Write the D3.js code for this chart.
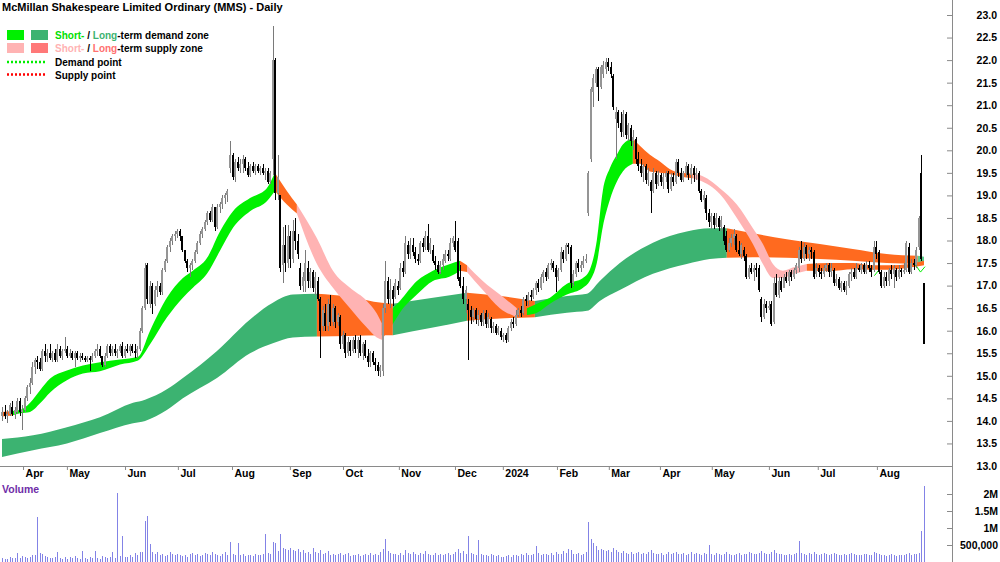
<!DOCTYPE html>
<html lang="en">
<head>
<meta charset="UTF-8">
<title>MMS Daily</title>
<script src="https://cdn.jsdelivr.net/npm/d3@7"></script>
<style>
  body { margin: 0; padding: 0; background: #fff; }
  svg { display: block; font-family: Arial, "Liberation Sans", sans-serif; font-weight: bold; }
</style>
</head>
<body>
<div id="chart"></div>
<script>
// daily candles, late Mar 2023 .. late Aug 2024
const opens = [
14.1,14.2,14.1,14.15,14.3,14.15,14.2,14.45,14.2,14.25,
14.5,14.75,14.85,15.2,15.35,15.3,15.15,15.55,15.45,15.5,
15.4,15.5,15.35,15.6,15.45,15.55,15.6,15.45,15.5,15.4,
15.5,15.4,15.45,15.4,15.35,15.4,15.35,15.45,15.55,15.6,
15.45,15.25,15.45,15.65,15.5,15.6,15.5,15.55,15.65,15.45,
15.6,15.55,15.65,15.55,15.5,15.6,16.0,16.5,17.45,16.6,
17.0,16.6,16.9,17.0,16.85,17.35,17.55,17.85,18.0,18.1,
18.15,18.2,18.1,17.8,17.55,17.4,17.45,17.55,17.75,17.95,
18.15,18.25,18.4,18.6,18.45,18.75,18.3,18.75,18.8,18.95,
19.0,19.6,19.9,19.4,19.75,19.6,19.7,19.8,19.6,19.45,
19.65,19.55,19.65,19.55,19.6,19.5,19.55,19.3,19.8,22.0,
19.05,19.0,17.45,17.9,17.5,18.1,17.6,18.2,18.0,17.4,
17.0,17.1,17.4,17.1,17.3,16.95,17.1,16.7,16.1,16.4,
16.1,16.6,16.2,16.5,16.2,16.3,15.7,15.9,15.5,15.75,
15.55,15.8,15.6,15.8,15.5,15.7,15.45,15.3,15.5,15.3,
15.25,15.1,15.1,16.5,17.1,16.7,16.9,16.75,17.0,16.95,
17.4,17.3,17.9,17.7,17.9,17.75,17.6,17.55,17.95,17.85,
18.1,17.8,17.8,17.55,17.45,17.3,17.45,17.55,17.7,17.6,
17.95,18.0,18.0,17.2,17.0,16.7,16.6,16.45,16.3,16.45,
16.25,16.35,16.2,16.4,16.15,16.25,16.05,16.1,15.95,16.0,
15.85,15.9,15.8,16.05,16.2,16.15,16.35,16.45,16.4,16.7,
16.65,16.8,16.75,16.9,17.05,16.95,17.2,17.3,17.2,17.45,
17.5,17.4,17.2,17.35,17.75,17.6,17.9,17.85,17.05,17.25,
17.5,17.4,17.45,17.55,18.6,19.8,21.3,21.5,21.8,21.4,
21.7,21.8,21.95,21.85,21.65,20.7,20.85,20.6,20.4,20.8,
20.35,20.5,20.2,20.25,19.8,19.65,19.5,19.65,19.35,19.3,
19.1,19.5,19.25,19.45,19.3,19.4,19.5,19.15,19.4,19.3,
19.75,19.5,19.35,19.5,19.65,19.45,19.6,19.45,19.5,19.1,
18.9,18.95,18.6,18.4,18.55,18.35,18.5,18.3,18.3,18.1,
17.8,17.95,18.05,18.1,17.8,17.7,17.8,17.65,17.2,17.4,
17.3,17.4,17.4,16.7,16.3,16.6,16.5,16.6,16.2,17.05,
16.8,17.1,16.95,17.2,17.1,17.3,17.2,17.35,17.4,17.8,
17.6,17.85,17.7,17.8,17.75,17.25,17.4,17.3,17.25,17.4,
17.45,17.3,17.35,17.05,17.15,16.95,17.05,16.9,17.0,17.25,
17.3,17.2,17.4,17.35,17.45,17.3,17.45,17.4,17.35,17.85,
17.75,17.3,17.0,17.2,17.1,17.35,17.25,17.35,17.2,17.35,
17.3,17.35,17.85,17.3,17.5,17.45,17.85,19.5,17.05
];
const highs = [
14.3,14.35,14.25,14.4,14.45,14.3,14.5,14.5,14.35,14.55,
14.8,14.95,15.3,15.4,15.45,15.4,15.6,15.7,15.6,15.7,
15.55,15.6,15.7,15.65,15.6,15.85,15.65,15.6,15.55,15.55,
15.55,15.5,15.5,15.45,15.45,15.45,15.5,15.6,15.7,15.65,
15.45,15.5,15.7,15.7,15.65,15.7,15.6,15.7,15.75,15.65,
15.7,15.7,15.7,15.7,15.65,16.05,16.55,17.5,17.5,17.1,
17.05,17.0,17.1,17.05,17.4,17.6,17.9,18.05,18.15,18.2,
18.25,18.25,18.1,17.8,17.6,17.5,17.6,17.8,18.0,18.2,
18.3,18.45,18.65,18.65,18.8,18.75,18.8,18.85,19.0,19.05,
19.15,20.2,19.95,19.8,19.85,19.8,19.9,19.85,19.75,19.7,
19.75,19.7,19.7,19.65,19.7,19.6,19.6,19.55,22.75,22.05,
19.9,19.0,18.3,18.35,18.35,18.2,18.45,18.5,18.15,17.5,
17.3,17.8,17.55,17.4,17.35,17.3,17.2,16.75,16.55,16.6,
16.7,16.8,16.6,16.55,16.4,16.35,16.0,15.95,15.85,15.8,
15.85,15.9,15.85,15.9,15.75,15.8,15.6,15.55,15.55,15.4,
15.3,15.25,16.6,17.55,17.2,17.15,17.0,17.15,17.1,17.5,
17.55,18.1,18.0,18.05,18.05,17.85,17.7,18.0,18.05,18.2,
18.36,18.05,17.9,17.65,17.55,17.55,17.7,17.8,17.8,18.05,
18.1,18.43,18.05,17.45,17.2,17.0,16.7,16.55,16.5,16.5,
16.45,16.4,16.45,16.45,16.4,16.3,16.2,16.15,16.1,16.05,
15.95,15.95,16.1,16.25,16.3,16.45,16.5,16.55,16.75,16.8,
16.85,16.9,16.95,17.1,17.15,17.25,17.35,17.4,17.5,17.6,
17.55,17.45,17.4,17.85,17.8,17.95,17.95,17.9,17.35,17.55,
17.6,17.55,17.65,17.7,19.55,21.4,21.7,21.85,21.85,21.9,
21.97,22.05,22.05,21.95,21.7,20.95,20.9,20.85,20.9,20.85,
20.6,20.55,20.45,20.3,19.97,19.8,19.7,19.7,19.6,19.35,
19.6,19.55,19.55,19.5,19.5,19.55,19.55,19.5,19.5,19.8,
19.8,19.6,19.55,19.75,19.7,19.7,19.65,19.6,19.55,19.15,
19.1,19.0,18.7,18.6,18.6,18.6,18.55,18.55,18.35,18.2,
18.05,18.15,18.25,18.15,18.0,17.95,17.85,17.7,17.45,17.5,
17.45,17.5,17.45,16.75,16.7,16.65,16.65,16.65,17.2,17.25,
17.2,17.2,17.25,17.3,17.35,17.35,17.4,17.5,17.85,18.0,
17.95,17.9,17.85,17.85,17.8,17.5,17.45,17.4,17.45,17.5,
17.5,17.5,17.4,17.25,17.2,17.1,17.1,17.1,17.3,17.4,
17.4,17.5,17.45,17.5,17.5,17.55,17.55,17.45,18.0,18.0,
17.8,17.35,17.3,17.3,17.4,17.45,17.45,17.4,17.45,17.4,
17.5,18.0,17.95,17.6,17.6,17.85,18.55,19.9,17.05
];
const lows = [
14.0,14.05,13.95,14.1,14.1,14.05,14.15,14.1,13.8,14.2,
14.45,14.6,14.8,15.05,15.15,15.1,15.1,15.3,15.3,15.35,
15.3,15.3,15.3,15.4,15.35,15.5,15.4,15.4,15.35,15.2,
15.35,15.3,15.35,15.3,15.3,15.1,15.3,15.4,15.45,15.4,
15.2,15.2,15.4,15.45,15.45,15.45,15.4,15.5,15.4,15.4,
15.5,15.45,15.5,15.4,15.4,15.55,15.95,16.45,16.6,16.5,
16.37,16.55,16.75,16.8,16.8,17.3,17.5,17.75,17.9,18.0,
18.05,18.0,17.75,17.5,17.3,17.2,17.35,17.5,17.7,17.9,
18.05,18.2,18.35,18.4,18.4,18.2,18.25,18.6,18.7,18.8,
18.85,19.5,19.35,19.3,19.55,19.5,19.5,19.55,19.4,19.4,
19.5,19.45,19.5,19.45,19.45,19.35,19.25,19.25,19.45,18.9,
18.9,17.3,17.05,17.3,17.4,17.4,17.5,17.8,17.6,16.9,
16.85,16.85,16.95,16.95,16.85,16.8,16.65,15.4,16.0,16.0,
16.0,16.1,16.1,16.05,16.1,15.6,15.6,15.4,15.45,15.45,
15.5,15.5,15.4,15.45,15.35,15.4,15.2,15.2,15.25,15.1,
15.0,14.98,15.0,16.4,16.6,16.5,16.55,16.7,16.8,16.9,
17.2,17.25,17.6,17.6,17.65,17.5,17.45,17.5,17.75,17.8,
17.75,17.7,17.5,17.35,17.25,17.25,17.35,17.5,17.55,17.55,
17.85,17.75,17.1,16.95,16.6,16.4,15.35,16.15,16.2,16.15,
16.1,16.1,16.1,16.05,16.05,15.95,15.95,15.9,15.9,15.8,
15.75,15.72,15.75,16.0,16.05,16.1,16.3,16.3,16.35,16.55,
16.55,16.65,16.7,16.8,16.85,16.9,17.05,17.1,17.15,17.35,
17.3,16.85,17.1,17.3,17.5,17.55,17.7,16.95,17.0,17.2,
17.3,17.3,17.4,17.5,18.55,19.75,20.95,21.4,21.1,21.35,
21.6,21.7,21.75,21.6,20.9,19.8,20.5,20.3,20.3,20.25,
20.2,20.1,20.0,19.7,19.55,19.4,19.3,19.25,19.2,18.6,
19.05,19.15,19.2,19.2,19.15,19.3,19.05,19.1,19.2,19.25,
19.4,19.3,19.3,19.4,19.35,19.25,19.3,19.35,19.05,18.85,
18.7,18.45,18.3,18.25,18.25,18.3,18.2,18.2,17.9,17.75,
17.75,17.85,17.9,17.75,17.65,17.6,17.55,17.15,17.15,17.25,
17.1,17.2,16.85,16.2,16.25,16.4,16.45,16.1,16.15,16.75,
16.73,16.85,16.95,17.05,17.0,17.1,17.15,17.25,17.3,17.5,
17.55,17.6,17.55,17.6,17.15,17.2,17.2,17.15,17.2,17.3,
17.2,17.2,17.0,17.0,16.9,16.85,16.85,16.8,16.95,17.1,
17.15,17.15,17.3,17.25,17.25,17.25,17.3,17.2,17.3,17.6,
17.25,16.95,16.95,17.0,17.0,17.15,16.95,17.1,17.15,17.2,
17.25,17.3,17.25,17.25,17.35,17.4,17.8,17.55,15.7
];
const closes = [
14.2,14.1,14.15,14.35,14.15,14.25,14.45,14.2,14.25,14.5,
14.75,14.85,15.2,15.35,15.3,15.15,15.55,15.45,15.5,15.4,
15.5,15.35,15.6,15.45,15.55,15.6,15.45,15.5,15.4,15.5,
15.4,15.45,15.4,15.35,15.4,15.35,15.45,15.55,15.6,15.45,
15.25,15.45,15.65,15.5,15.6,15.5,15.55,15.65,15.45,15.6,
15.55,15.65,15.55,15.5,15.6,16.0,16.5,17.4,16.7,17.0,
16.6,16.9,17.0,16.85,17.35,17.55,17.85,18.0,18.1,18.15,
18.2,18.1,17.8,17.55,17.4,17.45,17.55,17.75,17.95,18.15,
18.25,18.4,18.6,18.45,18.75,18.3,18.75,18.8,18.95,19.0,
19.1,19.9,19.4,19.75,19.6,19.7,19.8,19.6,19.45,19.65,
19.55,19.65,19.55,19.6,19.5,19.55,19.3,19.5,22.0,19.05,
19.4,17.4,17.9,17.5,18.1,17.6,18.2,18.0,17.7,17.0,
17.2,17.5,17.1,17.3,16.95,17.2,16.7,16.0,16.45,16.1,
16.6,16.2,16.5,16.2,16.35,15.7,15.9,15.5,15.75,15.55,
15.8,15.6,15.8,15.5,15.7,15.45,15.3,15.5,15.3,15.25,
15.1,15.2,16.5,17.1,16.7,16.9,16.7,17.05,16.9,17.4,
17.3,17.95,17.7,17.9,17.75,17.6,17.55,17.95,17.85,18.1,
17.8,17.95,17.55,17.45,17.3,17.45,17.6,17.7,17.65,17.95,
18.05,17.8,17.15,17.0,16.7,16.9,16.45,16.3,16.45,16.25,
16.35,16.2,16.4,16.15,16.3,16.05,16.1,15.95,16.05,15.85,
15.9,15.8,16.05,16.2,16.15,16.35,16.45,16.4,16.7,16.65,
16.8,16.75,16.9,17.05,16.95,17.2,17.3,17.2,17.45,17.5,
17.4,17.2,17.35,17.75,17.6,17.9,17.85,17.05,17.25,17.5,
17.4,17.45,17.55,17.6,19.5,21.35,21.6,21.8,21.4,21.85,
21.9,21.95,21.85,21.7,20.95,20.85,20.6,20.4,20.8,20.35,
20.55,20.2,20.3,19.8,19.65,19.5,19.65,19.35,19.5,19.1,
19.5,19.25,19.45,19.3,19.4,19.5,19.15,19.4,19.3,19.75,
19.5,19.35,19.5,19.65,19.45,19.6,19.45,19.5,19.1,18.9,
19.0,18.6,18.4,18.55,18.35,18.5,18.3,18.45,18.0,17.8,
17.95,18.05,18.15,17.8,17.7,17.9,17.65,17.2,17.4,17.3,
17.4,17.35,16.9,16.3,16.6,16.5,16.55,16.15,17.05,16.8,
17.1,16.9,17.2,17.1,17.3,17.2,17.35,17.45,17.8,17.6,
17.85,17.7,17.8,17.75,17.2,17.4,17.3,17.25,17.4,17.45,
17.3,17.4,17.05,17.15,16.95,17.05,16.9,17.0,17.25,17.3,
17.2,17.4,17.35,17.45,17.3,17.45,17.4,17.3,17.85,17.7,
17.3,17.0,17.2,17.1,17.35,17.25,17.4,17.2,17.35,17.3,
17.35,17.95,17.3,17.5,17.45,17.8,18.5,17.6,15.7
];
// volume in thousands of shares
const volumes = [
120,90,100,150,110,130,260,120,170,150,130,150,220,200,1320,260,250,180,150,130,
120,150,300,130,100,150,100,140,120,170,110,100,330,120,100,150,130,310,120,100,
170,150,130,140,280,120,2030,180,760,160,140,200,160,260,220,300,280,1200,1350,530,
280,230,300,220,250,180,210,280,230,200,250,220,180,200,160,230,270,210,250,190,
220,270,230,200,300,250,210,180,230,280,220,600,250,220,560,200,230,180,200,220,
190,230,200,210,250,820,270,230,600,550,320,820,420,380,360,400,340,320,380,300,
340,270,300,250,420,290,270,340,230,270,310,210,250,220,230,270,200,230,270,180,
210,200,250,180,210,230,200,270,220,250,210,300,380,680,320,270,230,250,200,270,
220,340,270,230,290,250,210,270,230,310,250,220,200,270,210,230,200,250,270,220,
230,300,380,270,310,250,760,270,230,210,650,250,200,220,180,230,200,180,210,160,
140,180,220,160,200,210,180,230,200,270,220,200,230,480,270,200,230,250,210,270,
220,290,250,230,310,270,380,340,250,230,270,220,250,290,1180,680,560,480,360,380,
340,310,360,290,410,340,300,270,320,270,250,290,230,270,300,250,270,230,290,340,
270,250,230,270,220,250,290,230,270,300,250,230,270,220,250,290,230,270,250,220,
270,230,500,250,220,270,230,210,250,290,230,200,220,250,270,210,230,250,290,270,
230,250,270,310,270,230,250,290,340,270,230,250,210,220,230,200,250,270,620,270,
250,220,270,230,290,250,220,230,270,250,210,230,270,250,220,200,230,210,250,270,
230,210,200,220,250,230,210,200,300,270,230,200,210,180,200,230,210,180,200,220,
210,230,270,200,230,250,270,920,2230
];

// month ticks, as positions on the trading-day index
const monthTicks  = [8.4, 25.9, 49.1, 70.2, 91.8, 114.9, 136.1, 158.4, 180.8, 199.9, 221.5, 242.2, 262.6, 283.3, 306.1, 325.6, 349.2];
const monthLabels = ["Apr","May","Jun","Jul","Aug","Sep","Oct","Nov","Dec","2024","Feb","Mar","Apr","May","Jun","Jul","Aug"];

// long-term zone: G = demand, O = supply, T = fresh demand
const ltIdx  = [0,12.4,25.9,39.1,52.3,57.1,65.8,72.2,85.8,99,108.1,116.1,125.7,138.9,151.6,156,172,185.6,198.7,212.7,225.5,233.5,238.6,246.6,259.8,273.3,282.5,289.3,299.7,313.2,326.4,339.6,353.1,365.5,368];
const ltTop  = [13.6,13.68,13.86,14.08,14.4,14.47,14.7,14.95,15.55,16.25,16.62,16.8,16.82,16.75,16.62,16.6,16.73,16.84,16.77,16.66,16.77,16.82,17.1,17.5,17.95,18.2,18.27,18.27,18.16,18.03,17.92,17.81,17.7,17.66,17.64];
const ltBot  = [13.2,13.35,13.5,13.73,13.95,14.0,14.24,14.5,14.95,15.5,15.72,15.85,15.87,15.88,15.9,15.9,16.07,16.22,16.27,16.3,16.4,16.44,16.66,16.9,17.26,17.48,17.59,17.62,17.63,17.62,17.59,17.55,17.5,17.48,17.47];
const ltZone = ["G","G","G","G","G","G","G","G","G","G","G","G","O","O","O","G","G","O","O","G","G","G","G","G","G","G","G","O","O","O","O","O","O","T","T"];

// short-term zone: g = demand, p = supply, O = supply (overlap)
const stIdx  = [0,4,7.2,11.2,15.2,19.2,25.9,32.3,39.1,47.1,54.3,59.1,65.8,72.2,76.2,81.8,87,92.2,99,105.7,108.9,113.7,117.7,125.7,132.1,138.9,145.6,149.6,151.6,154,156,158.8,165.6,172,178.8,182.8,185.6,191.9,198.7,205.5,209.5,213.5,218.7,225.5,231.9,234.6,237.4,239.8,242.6,245.4,247.8,251.8,254.6,258.6,262.6,266.6,270.6,275.7,278.5,286.5,293.3,299.7,303.7,307.7,311.7,315.6,321.2,330.4,339.6,347.6,354.3,362.3,368];
const stTop  = [14.2,14.22,14.24,14.4,14.68,14.94,15.12,15.23,15.3,15.36,15.42,16.0,16.73,17.17,17.33,17.61,18.2,18.65,18.94,19.16,19.5,19.1,18.8,18.05,17.33,16.95,16.66,16.38,16.16,16.3,16.5,16.66,17.1,17.33,17.48,17.55,17.45,17.1,16.8,16.5,16.5,16.6,16.73,17.04,17.17,17.35,18.0,19.1,19.6,19.9,20.13,20.26,20.1,19.9,19.75,19.58,19.5,19.48,19.45,19.16,18.8,18.27,17.92,17.48,17.33,17.4,17.48,17.5,17.5,17.45,17.45,17.48,17.55];
const stBot  = [14.1,14.12,14.17,14.2,14.39,14.63,14.9,15.05,15.1,15.25,15.34,15.7,16.29,16.73,16.95,17.26,17.77,18.28,18.65,18.87,19.1,18.8,18.6,17.48,16.95,16.5,16.07,15.85,15.8,16.0,16.15,16.4,16.8,17.1,17.2,17.33,17.3,16.9,16.5,16.3,16.35,16.4,16.6,16.8,16.95,17.1,17.5,18.3,18.9,19.3,19.53,19.7,19.7,19.53,19.5,19.47,19.42,19.38,19.33,19.03,18.5,17.92,17.48,17.17,17.17,17.25,17.33,17.32,17.36,17.35,17.35,17.4,17.45];
const stZone = ["O","g","g","g","g","g","g","g","g","g","g","g","g","g","g","g","g","g","g","g","O","O","p","p","p","p","p","p","O","O","g","g","g","g","g","O","p","p","p","O","g","g","g","g","g","g","g","g","g","g","g","O","O","O","O","O","O","p","p","p","p","p","p","p","p","p","O","O","O","O","O","O","O"];

// demand point marks near the end (index, price)
const demandMarks = [
  [[348.2, 17.22], [350.2, 17.36]],
  [[364.6, 17.46], [366.6, 17.3], [368.4, 17.42]]
];

const zoneColor = { G: "#3cb371", T: "#5ccf8c", O: "#ff6a1f", g: "#00f000", p: "#ffb3b3" };

const W = 1000, H = 562;
const axisX = 952;

const svg = d3.select("#chart").append("svg")
  .attr("width", W).attr("height", H)
  .attr("viewBox", `0 0 ${W} ${H}`);

const x = d3.scaleLinear().domain([0, closes.length - 1]).range([2, 924]);
const y = d3.scaleLinear().domain([13, 23]).range([466, 15]);
const yv = d3.scaleLinear().domain([0, 2000]).range([562, 494]);

// zones
const area = d3.area()
  .x(d => x(d.i)).y0(d => y(d.b)).y1(d => y(d.t))
  .curve(d3.curveMonotoneX);

function drawZone(g, idx, top, bot, zone) {
  const pts = idx.map((v, k) => ({ i: v, t: top[k], b: bot[k] }));
  let s = 0;
  for (let k = 1; k < pts.length; k++) {
    if (k === pts.length - 1 || zone[k] !== zone[s]) {
      g.append("path").datum(pts.slice(s, k + 1))
        .attr("d", area).attr("fill", zoneColor[zone[s]]);
      s = k;
    }
  }
}
const zones = svg.append("g");
drawZone(zones, ltIdx, ltTop, ltBot, ltZone);
drawZone(zones, stIdx, stTop, stBot, stZone);

const line = d3.line().x(d => x(d[0])).y(d => y(d[1]));
zones.selectAll(".dp").data(demandMarks).join("path")
  .attr("d", line).attr("fill", "none").attr("stroke", "#00ee00").attr("stroke-width", 1);

// candles
const candles = svg.append("g").attr("shape-rendering", "crispEdges");
closes.forEach((c, i) => {
  const o = opens[i], up = c >= o;
  const cx = Math.round(x(i));
  candles.append("rect")
    .attr("x", cx).attr("width", 1)
    .attr("y", y(highs[i])).attr("height", Math.max(1, y(lows[i]) - y(highs[i])))
    .attr("fill", up ? "#7a7a7a" : "#000");
  const top = y(Math.max(o, c)), bot = y(Math.min(o, c));
  candles.append("rect")
    .attr("x", cx - 1).attr("width", 2)
    .attr("y", top).attr("height", Math.max(1, bot - top))
    .attr("fill", up ? "#959595" : "#000");
});

// volume
svg.append("g").attr("shape-rendering", "crispEdges")
  .selectAll("rect").data(volumes).join("rect")
  .attr("x", (d, i) => Math.round(x(i)))
  .attr("width", 1)
  .attr("y", d => yv(d))
  .attr("height", d => yv(0) - yv(d))
  .attr("fill", "#8383e6");

// axes
svg.append("line").attr("x1", 0).attr("x2", axisX).attr("y1", 466.5).attr("y2", 466.5)
  .attr("stroke", "#8a8a8a");
svg.append("line").attr("x1", axisX + 0.5).attr("x2", axisX + 0.5).attr("y1", 0).attr("y2", H)
  .attr("stroke", "#8a8a8a");

const xAxis = svg.append("g").attr("transform", "translate(0,466)")
  .call(d3.axisBottom(x).tickValues(monthTicks).tickSize(4).tickSizeOuter(0)
    .tickFormat((d, i) => monthLabels[i]));
xAxis.select(".domain").remove();
xAxis.selectAll("line").attr("stroke", "#8a8a8a");
xAxis.selectAll("text").attr("text-anchor", "start").attr("x", 2).attr("y", 4).attr("dy", "0.71em")
  .attr("font-size", 10.5).attr("font-family", null).attr("font-weight", "bold").attr("fill", "#000");

const yAxis = svg.append("g").attr("transform", `translate(${axisX},0)`)
  .call(d3.axisRight(y).tickValues(d3.range(13, 23.01, 0.5)).tickSize(-5).tickSizeOuter(0)
    .tickFormat(d3.format(".1f")));
yAxis.select(".domain").remove();
yAxis.selectAll("line").attr("stroke", "#8a8a8a");
yAxis.selectAll("text").attr("text-anchor", "end").attr("x", 45)
  .attr("font-size", 10.5).attr("font-family", null).attr("font-weight", "bold").attr("fill", "#000");

const vAxis = svg.append("g").attr("transform", `translate(${axisX},0)`)
  .call(d3.axisRight(yv).tickValues([500, 1000, 1500, 2000]).tickSize(-5).tickSizeOuter(0)
    .tickFormat(d => d === 500 ? "500,000" : (d / 1000) + "M"));
vAxis.select(".domain").remove();
vAxis.selectAll("line").attr("stroke", "#8a8a8a");
vAxis.selectAll("text").attr("text-anchor", "end").attr("x", 46)
  .attr("font-size", 10.5).attr("font-family", null).attr("font-weight", "bold").attr("fill", "#000");

// title and legend
svg.append("text").attr("x", 2).attr("y", 11).attr("font-size", 11)
  .text("McMillan Shakespeare Limited Ordinary (MMS) - Daily");

svg.append("text").attr("x", 2).attr("y", 493).attr("font-size", 10.5).attr("fill", "#6f2da8")
  .text("Volume");

const legend = svg.append("g").attr("font-size", 10);
[["#00f000", "#3cb371", 30], ["#ffb3b3", "#ff7878", 43]].forEach(([a, b, yy]) => {
  legend.append("rect").attr("x", 7).attr("y", yy).attr("width", 17).attr("height", 10).attr("fill", a);
  legend.append("rect").attr("x", 31).attr("y", yy).attr("width", 17).attr("height", 10).attr("fill", b);
});
const l1 = legend.append("text").attr("x", 55).attr("y", 39);
l1.append("tspan").attr("fill", "#00e000").text("Short-");
l1.append("tspan").text(" / ");
l1.append("tspan").attr("fill", "#3cb371").text("Long");
l1.append("tspan").text("-term demand zone");
const l2 = legend.append("text").attr("x", 55).attr("y", 52);
l2.append("tspan").attr("fill", "#ffb3b3").text("Short-");
l2.append("tspan").text(" / ");
l2.append("tspan").attr("fill", "#ff7070").text("Long");
l2.append("tspan").text("-term supply zone");
[["#00ee00", 62, "Demand point"], ["#ff0000", 74.5, "Supply point"]].forEach(([c, yy, t]) => {
  legend.append("line").attr("x1", 7).attr("x2", 45).attr("y1", yy).attr("y2", yy)
    .attr("stroke", c).attr("stroke-width", 2.5).attr("stroke-dasharray", "2,2");
  legend.append("text").attr("x", 55).attr("y", yy + 4).text(t);
});
</script>
</body>
</html>
